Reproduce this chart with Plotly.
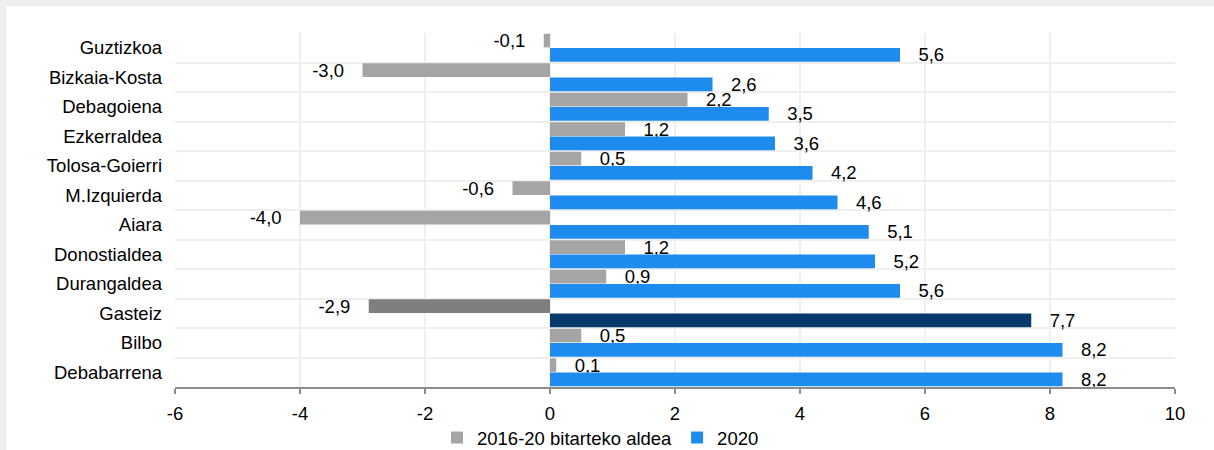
import plotly.graph_objects as go

categories = ["Guztizkoa", "Bizkaia-Kosta", "Debagoiena", "Ezkerraldea", "Tolosa-Goierri",
              "M.Izquierda", "Aiara", "Donostialdea", "Durangaldea", "Gasteiz", "Bilbo", "Debabarrena"]
diff_2016_20 = [-0.1, -3.0, 2.2, 1.2, 0.5, -0.6, -4.0, 1.2, 0.9, -2.9, 0.5, 0.1]
val_2020 = [5.6, 2.6, 3.5, 3.6, 4.2, 4.6, 5.1, 5.2, 5.6, 7.7, 8.2, 8.2]
series_names = ["2016-20 bitarteko aldea", "2020"]
x_ticks = [-6, -4, -2, 0, 2, 4, 6, 8, 10]

GRAY = "#a5a5a5"
GRAY_HL = "#7f7f7f"
BLUE = "#1e8bef"
BLUE_HL = "#063a6b"
HIGHLIGHT = "Gasteiz"

NB = "\u00a0\u00a0\u00a0"


def fmt(v):
    return f"{v:.1f}".replace(".", ",")


def lab(v):
    return (fmt(v) + NB) if v < 0 else (NB + fmt(v))


gray_colors = [GRAY_HL if c == HIGHLIGHT else GRAY for c in categories]
blue_colors = [BLUE_HL if c == HIGHLIGHT else BLUE for c in categories]

FONT = "Liberation Sans, Arial, sans-serif"
FS = 18.5

fig = go.Figure()
fig.add_trace(go.Bar(
    y=categories, x=diff_2016_20, orientation="h", name=series_names[0],
    marker=dict(color=gray_colors, line=dict(width=0)),
    text=[lab(v) for v in diff_2016_20], textposition="outside",
    textfont=dict(family=FONT, size=FS, color="#000000"), cliponaxis=False,
))
fig.add_trace(go.Bar(
    y=categories, x=val_2020, orientation="h", name=series_names[1],
    marker=dict(color=blue_colors, line=dict(width=0)),
    text=[lab(v) for v in val_2020], textposition="outside",
    textfont=dict(family=FONT, size=FS, color="#000000"), cliponaxis=False,
))

L, R, T, B = 175, 39, 33, 63
W, H = 1214, 450
pw, ph = W - L - R, H - T - B

fig.add_shape(type="rect", xref="paper", yref="paper", layer="below",
              x0=(6 - L) / pw, x1=(W + 5 - L) / pw,
              y0=(H - B - (H + 5)) / ph, y1=(H - B - 6) / ph,
              fillcolor="#ffffff", line=dict(width=0))

fig.update_layout(
    width=W, height=H,
    margin=dict(l=L, r=R, t=T, b=B, pad=0, autoexpand=False),
    paper_bgcolor="#efefef", plot_bgcolor="rgba(0,0,0,0)",
    barmode="group", bargap=0.03, bargroupgap=0.05,
    font=dict(family=FONT, size=FS, color="#000000"),
    showlegend=True,
    legend=dict(orientation="h", x=(437 - L) / pw, xanchor="left",
                y=(H - B - 438) / ph, yanchor="middle",
                font=dict(family=FONT, size=FS, color="#000000"),
                bgcolor="rgba(0,0,0,0)", itemwidth=30, tracegroupgap=0),
    xaxis=dict(range=[-6, 10], tickvals=x_ticks, ticktext=[str(t) for t in x_ticks],
               showgrid=True, gridcolor="#efefef", gridwidth=2, zeroline=False,
               showline=True, linecolor="#8c8c8c", linewidth=2,
               ticks="outside", ticklen=5, tickcolor="#8c8c8c", tickwidth=2,
               ticklabelstandoff=4,
               tickfont=dict(family=FONT, size=FS)),
    yaxis=dict(autorange="reversed", type="category", tickson="boundaries",
               showgrid=True, gridcolor="#efefef", gridwidth=2, ticks="",
               showline=False, zeroline=False, ticklabelstandoff=12,
               tickfont=dict(family=FONT, size=FS)),
)
fig.update_traces(constraintext="none")

fig.write_html(
    "out.html",
    config={"displayModeBar": False},
    post_script="document.body.style.margin='0';document.body.style.overflow='hidden';",
)
